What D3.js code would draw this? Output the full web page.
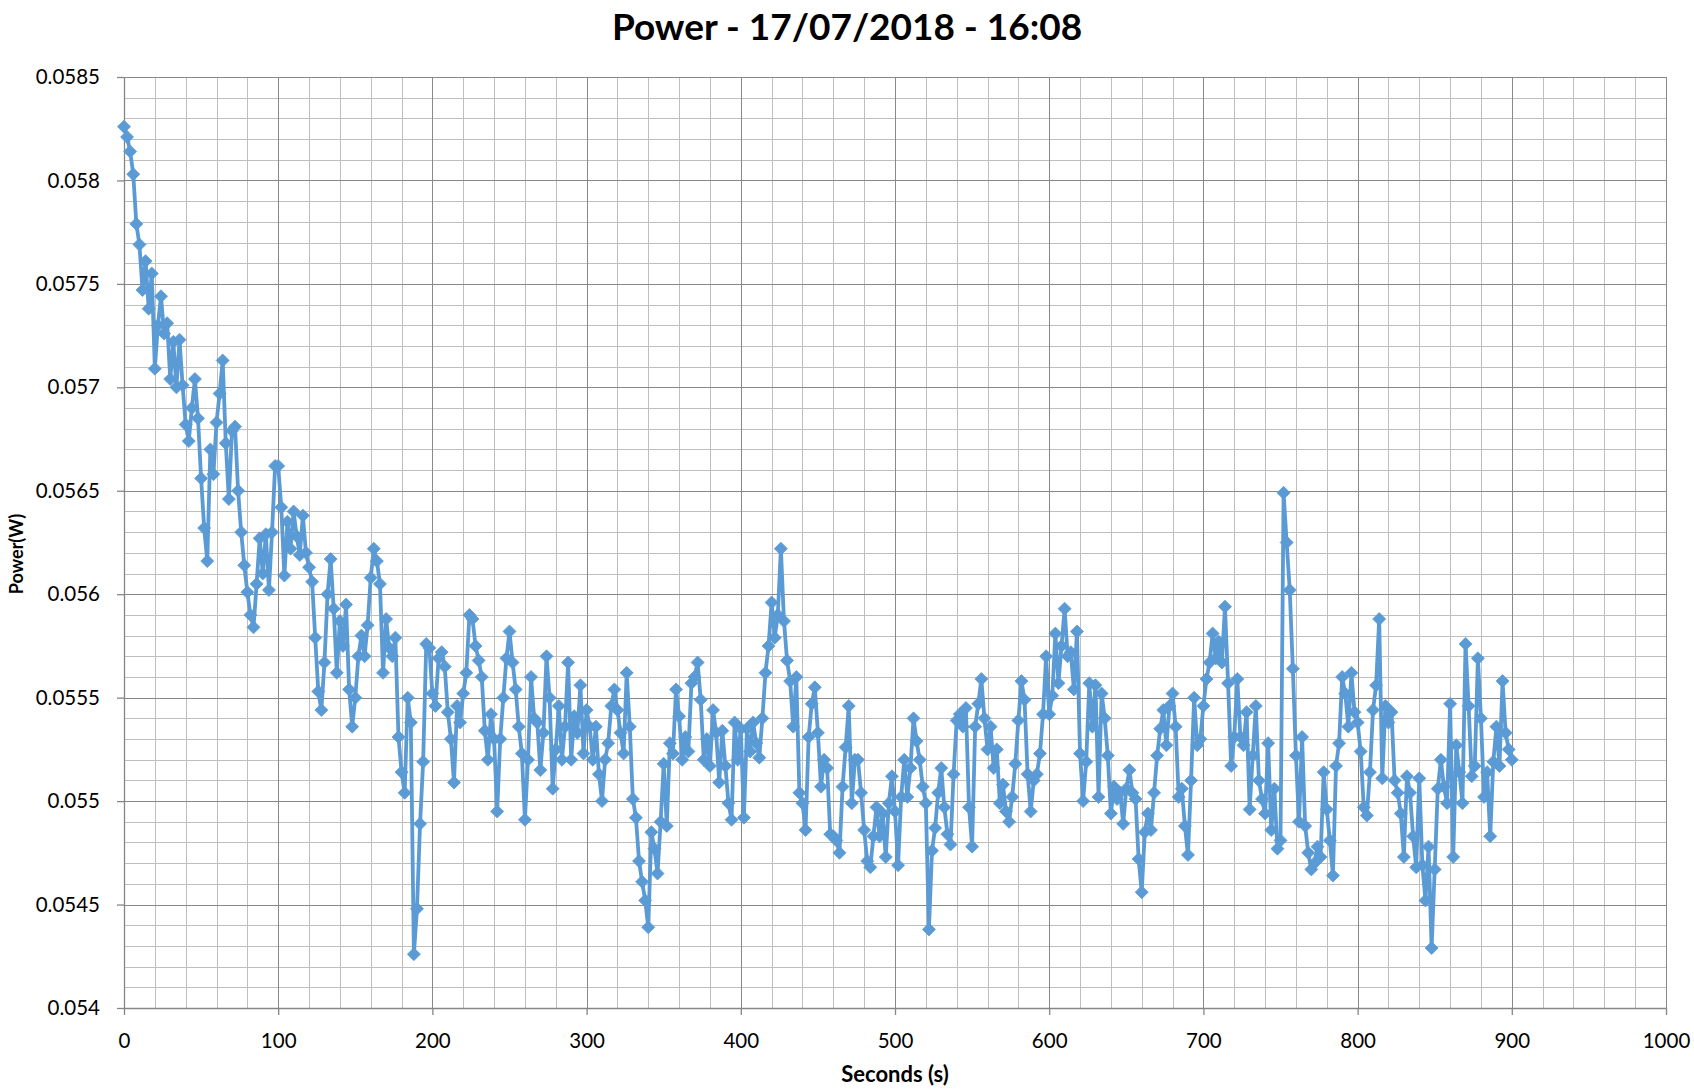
<!DOCTYPE html>
<html><head><meta charset="utf-8">
<script src="https://cdn.jsdelivr.net/npm/d3@7"></script>
<style>body{margin:0;background:#fff}svg{display:block}</style>
</head><body><svg id="chart" width="1694" height="1091"></svg>
<script>
// ---------- data ----------
const chartTitle = "Power - 17/07/2018 - 16:08";
const xAxisTitle = "Seconds (s)";
const yAxisTitle = "Power(W)";
const sampleStep = 2; // seconds between samples

const power000 = [0.05826,0.05821,0.05814,0.05803,0.05779,0.05769,0.05747,0.05761,0.05738,0.05755,
0.05709,0.05730,0.05744,0.05726,0.05731,0.05704,0.05722,0.05700,0.05723,0.05701,
0.05682,0.05674,0.05690,0.05704,0.05685,0.05656,0.05632,0.05616,0.05670,0.05658,
0.05683,0.05697,0.05713,0.05673,0.05646,0.05679,0.05681,0.05650,0.05630,0.05614,
0.05601,0.05590,0.05584,0.05605,0.05627,0.05610,0.05629,0.05602,0.05630,0.05662];
const power100 = [0.05662,0.05642,0.05609,0.05635,0.05622,0.05640,0.05628,0.05619,0.05638,0.05620,
0.05613,0.05606,0.05579,0.05553,0.05544,0.05567,0.05600,0.05617,0.05593,0.05562,
0.05587,0.05575,0.05595,0.05554,0.05536,0.05550,0.05570,0.05580,0.05570,0.05585,
0.05608,0.05622,0.05616,0.05605,0.05562,0.05588,0.05574,0.05570,0.05579,0.05531,
0.05514,0.05504,0.05550,0.05538,0.05426,0.05448,0.05489,0.05519,0.05576,0.05574];
const power200 = [0.05552,0.05546,0.05569,0.05572,0.05565,0.05543,0.05530,0.05509,0.05546,0.05538,
0.05552,0.05562,0.05590,0.05588,0.05575,0.05568,0.05560,0.05534,0.05520,0.05542,
0.05530,0.05495,0.05530,0.05550,0.05569,0.05582,0.05567,0.05554,0.05536,0.05523,
0.05491,0.05520,0.05560,0.05540,0.05538,0.05515,0.05533,0.05570,0.05550,0.05506,
0.05525,0.05546,0.05520,0.05536,0.05567,0.05520,0.05541,0.05533,0.05556,0.05523];
const power300 = [0.05544,0.05536,0.05520,0.05536,0.05513,0.05500,0.05520,0.05528,0.05546,0.05554,
0.05544,0.05533,0.05523,0.05562,0.05536,0.05501,0.05492,0.05471,0.05461,0.05452,
0.05439,0.05485,0.05477,0.05465,0.05490,0.05518,0.05488,0.05528,0.05523,0.05554,
0.05541,0.05520,0.05531,0.05524,0.05557,0.05560,0.05567,0.05549,0.05520,0.05530,
0.05517,0.05544,0.05533,0.05509,0.05534,0.05517,0.05499,0.05491,0.05538,0.05520];
const power400 = [0.05535,0.05492,0.05535,0.05524,0.05538,0.05528,0.05521,0.05540,0.05562,0.05575,
0.05596,0.05579,0.05590,0.05622,0.05587,0.05568,0.05558,0.05536,0.05560,0.05504,
0.05499,0.05486,0.05531,0.05547,0.05555,0.05533,0.05507,0.05520,0.05516,0.05484,
0.05483,0.05481,0.05475,0.05507,0.05526,0.05546,0.05499,0.05520,0.05520,0.05504,
0.05486,0.05471,0.05468,0.05483,0.05497,0.05483,0.05494,0.05473,0.05499,0.05512];
const power500 = [0.05495,0.05469,0.05502,0.05520,0.05502,0.05516,0.05540,0.05529,0.05520,0.05507,
0.05499,0.05438,0.05476,0.05487,0.05504,0.05516,0.05497,0.05484,0.05479,0.05513,
0.05539,0.05542,0.05536,0.05545,0.05497,0.05478,0.05536,0.05547,0.05559,0.05540,
0.05525,0.05536,0.05516,0.05525,0.05499,0.05508,0.05495,0.05490,0.05502,0.05518,
0.05539,0.05558,0.05549,0.05513,0.05495,0.05510,0.05513,0.05523,0.05542,0.05570];
const power600 = [0.05542,0.05551,0.05581,0.05557,0.05575,0.05593,0.05570,0.05572,0.05554,0.05582,
0.05523,0.05500,0.05519,0.05557,0.05536,0.05556,0.05502,0.05552,0.05540,0.05522,
0.05494,0.05507,0.05501,0.05504,0.05489,0.05506,0.05515,0.05504,0.05501,0.05472,
0.05456,0.05485,0.05494,0.05486,0.05504,0.05522,0.05535,0.05544,0.05527,0.05546,
0.05552,0.05536,0.05502,0.05506,0.05488,0.05474,0.05510,0.05550,0.05527,0.05530];
const power700 = [0.05546,0.05559,0.05567,0.05581,0.05569,0.05577,0.05567,0.05594,0.05557,0.05517,
0.05531,0.05559,0.05531,0.05527,0.05543,0.05496,0.05522,0.05546,0.05510,0.05501,
0.05494,0.05528,0.05486,0.05506,0.05477,0.05481,0.05649,0.05625,0.05602,0.05564,
0.05522,0.05490,0.05531,0.05488,0.05475,0.05467,0.05470,0.05478,0.05473,0.05514,
0.05496,0.05481,0.05464,0.05517,0.05528,0.05560,0.05552,0.05536,0.05562,0.05543];
const power800 = [0.05538,0.05524,0.05497,0.05493,0.05514,0.05544,0.05556,0.05588,0.05511,0.05546,
0.05538,0.05543,0.05510,0.05504,0.05494,0.05473,0.05512,0.05504,0.05483,0.05468,
0.05511,0.05469,0.05452,0.05478,0.05429,0.05467,0.05506,0.05520,0.05507,0.05499,
0.05547,0.05473,0.05527,0.05514,0.05499,0.05576,0.05546,0.05512,0.05517,0.05569,
0.05540,0.05502,0.05514,0.05483,0.05519,0.05536,0.05517,0.05558,0.05533,0.05525,0.05520];

const segmentStarts = [0,100,200,300,400,500,600,700,800];
const segments = [power000,power100,power200,power300,power400,power500,power600,power700,power800];

const xTickValues = [0,100,200,300,400,500,600,700,800,900,1000];
const yTickValues = [0.054,0.0545,0.055,0.0555,0.056,0.0565,0.057,0.0575,0.058,0.0585];
const xMinorStep = 20;
const yMinorStep = 0.0001;

// ---------- layout ----------
const W = 1694, H = 1091;
const plot = {left:124, right:1666, top:77, bottom:1008};
const blue = "#5B9BD5";
const font = "Lato, 'Open Sans', sans-serif";

const svg = d3.select("#chart");
svg.append("rect").attr("width",W).attr("height",H).attr("fill","#fff");

const x = d3.scaleLinear().domain([0,1000]).range([plot.left, plot.right]);
const y = d3.scaleLinear().domain([0.054,0.0585]).range([plot.bottom, plot.top]);

const data = [];
segments.forEach((vals,k) => vals.forEach((v,i) => data.push({t: segmentStarts[k] + i*sampleStep, v})));

// grid
const grid = svg.append("g").attr("shape-rendering","crispEdges");
const xMinor = d3.range(0, 1000 + 1e-9, xMinorStep);
const yMinor = d3.range(0, 46).map(i => 0.054 + i*yMinorStep);
grid.selectAll(".xm").data(xMinor).join("line")
  .attr("x1",d=>Math.round(x(d))+0.5).attr("x2",d=>Math.round(x(d))+0.5)
  .attr("y1",plot.top).attr("y2",plot.bottom)
  .attr("stroke","#BFBFBF").attr("stroke-width",1);
grid.selectAll(".ym").data(yMinor).join("line")
  .attr("y1",d=>Math.round(y(d))+0.5).attr("y2",d=>Math.round(y(d))+0.5)
  .attr("x1",plot.left).attr("x2",plot.right)
  .attr("stroke","#BFBFBF").attr("stroke-width",1);
grid.selectAll(".xM").data(xTickValues).join("line")
  .attr("x1",d=>Math.round(x(d))+0.5).attr("x2",d=>Math.round(x(d))+0.5)
  .attr("y1",plot.top).attr("y2",plot.bottom)
  .attr("stroke","#888888").attr("stroke-width",1.2);
grid.selectAll(".yM").data(yTickValues).join("line")
  .attr("y1",d=>Math.round(y(d))+0.5).attr("y2",d=>Math.round(y(d))+0.5)
  .attr("x1",plot.left).attr("x2",plot.right)
  .attr("stroke","#888888").attr("stroke-width",1.2);

// axes
const fmtY = d3.format(".4~f");
const fmtX = d3.format("d");
const yAxis = svg.append("g").attr("transform",`translate(${plot.left},0)`)
  .call(d3.axisLeft(y).tickValues(yTickValues).tickFormat(fmtY).tickSize(7).tickSizeOuter(0).tickPadding(17));
const xAxis = svg.append("g").attr("transform",`translate(0,${plot.bottom})`)
  .call(d3.axisBottom(x).tickValues(xTickValues).tickFormat(fmtX).tickSize(7).tickSizeOuter(0).tickPadding(18));
[xAxis,yAxis].forEach(a => {
  a.selectAll("path.domain").attr("stroke","#868686").attr("stroke-width",1.3);
  a.selectAll(".tick line").attr("stroke","#868686").attr("stroke-width",1.3);
  a.selectAll("text").attr("font-family",font).attr("font-size",20.5).attr("fill","#000");
});

// series
const line = d3.line().x(d=>x(d.t)).y(d=>y(d.v));
svg.append("path").datum(data).attr("d",line)
  .attr("fill","none").attr("stroke",blue).attr("stroke-width",3.8)
  .attr("stroke-linejoin","round");
const diamond = "M0,-6.5L6.5,0L0,6.5L-6.5,0Z";
svg.append("g").selectAll("path").data(data).join("path")
  .attr("d",diamond).attr("transform",d=>`translate(${x(d.t)},${y(d.v)})`)
  .attr("fill",blue).attr("stroke",blue).attr("stroke-width",0.8);

// titles
svg.append("text").attr("x",847).attr("y",40).attr("text-anchor","middle")
  .attr("font-family",font).attr("font-weight","bold").attr("font-size",37).attr("fill","#000")
  .text(chartTitle);
svg.append("text").attr("x",(plot.left+plot.right)/2).attr("y",1082).attr("text-anchor","middle")
  .attr("font-family",font).attr("font-weight","bold").attr("font-size",22).attr("fill","#000")
  .text(xAxisTitle);
svg.append("text").attr("transform",`translate(23,554) rotate(-90)`).attr("text-anchor","middle")
  .attr("font-family",font).attr("font-weight","bold").attr("font-size",18).attr("fill","#000")
  .text(yAxisTitle);
</script></body></html>
